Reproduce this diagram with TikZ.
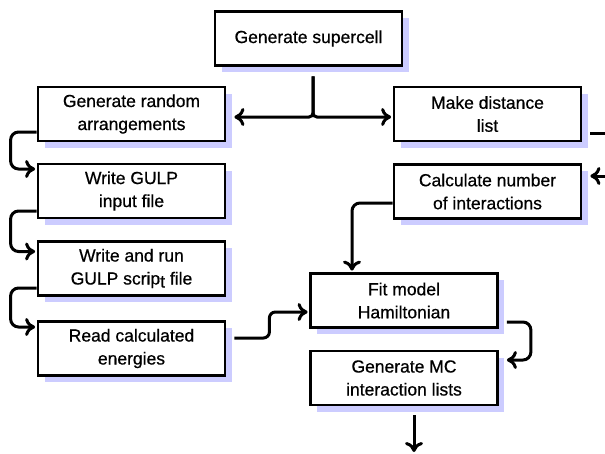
\documentclass[tikz,border=0pt]{standalone}
\usepackage{fontspec}
\setmainfont{Liberation Sans}
\newfontfamily\boxfont[FakeBold=0.6]{Liberation Sans}
\usetikzlibrary{arrows.meta,shadows}
\definecolor{shade}{RGB}{204,204,255}
\begin{document}
\begin{tikzpicture}[x=1pt,y=-1pt,
  box/.style={draw,line width=2.8pt,fill=white,minimum width=187pt,minimum height=54pt,
    inner sep=0pt,align=center,font=\boxfont\fontsize{17.5}{23}\selectfont,
    drop shadow={shadow xshift=6.5pt,shadow yshift=-6.5pt,fill=shade,opacity=1}},
  line/.style={line width=3pt,rounded corners=8pt},
  conn/.style={line,-{Computer Modern Rightarrow[length=10pt,width=18pt]}}]
\useasboundingbox (0,0) rectangle (605,453);
\node[box] (super) at (308.5,38.5) {Generate supercell};
\node[box] (rand) at (131.5,114) {Generate random\\arrangements};
\node[box] (gulpin) at (131.5,191) {Write GULP\\input file};
\node[box] (script) at (131.5,268.5) {Write and run\\GULP scrip\raisebox{-3pt}{t} file};
\node[box] (read) at (131.5,348.5) {Read calculated\\energies};
\node[box] (dist) at (487.5,114) {Make distance\\list};
\node[box] (calc) at (487.5,191.5) {Calculate number\\of interactions};
\node[box] (fit) at (404,300.5) {Fit model\\Hamiltonian};
\node[box] (mc) at (404,378) {Generate MC\\interaction lists};
\coordinate (offA) at (606,133);
\coordinate (offB) at (606,176);
\coordinate (offC) at (414,452);
% split from supercell
\draw[conn,rounded corners=4pt] ([shift={(4.5,9.5)}]super.south) |- ([shift={(8,3)}]rand.east);
\draw[conn,rounded corners=4pt] ([shift={(4.5,9.5)}]super.south) |- ([shift={(-1.5,3)}]dist.west);
% left chain
\draw[conn] ([shift={(0,18)}]rand.west) -- ++(-26,0) |- ([shift={(-1.5,-22)}]gulpin.west);
\draw[conn] ([shift={(0,20)}]gulpin.west) -- ++(-26,0) |- ([shift={(-1.5,-17)}]script.west);
\draw[conn] ([shift={(0,19.5)}]script.west) -- ++(-26,0) |- ([shift={(-1.5,-21.5)}]read.west);
\draw[conn,rounded corners=6pt] ([shift={(8,-10.5)}]read.east) -- ++(35,0) |- ([shift={(-1.5,11.5)}]fit.west);
% right chain
\draw[line] ([shift={(8,19)}]dist.east) -- (offA);
\draw[conn] (offB) -- ([shift={(8,-15.5)}]calc.east);
\draw[conn] ([shift={(0,11.5)}]calc.west) -| ([shift={(-52,-1.5)}]fit.north);
\draw[conn] ([shift={(8,21.5)}]fit.east) -- ++(24,0) |- ([shift={(8,-18)}]mc.east);
\draw[conn] ([shift={(10,9)}]mc.south) -- (offC);
\end{tikzpicture}
\end{document}
